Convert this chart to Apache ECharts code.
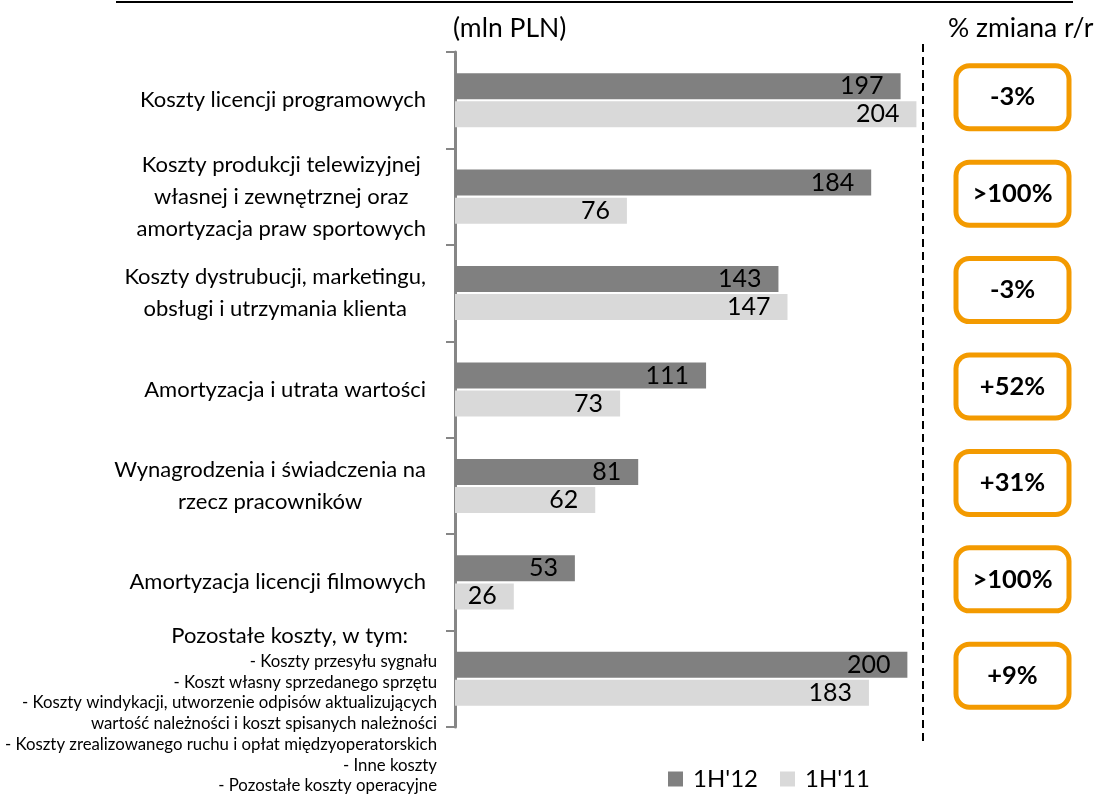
<!DOCTYPE html>
<html>
<head>
<meta charset="utf-8">
<script src="https://cdn.jsdelivr.net/npm/echarts@6/dist/echarts.min.js"></script>
<style>
  html, body { margin: 0; padding: 0; background: #fff; }
  #chart { width: 1103px; height: 795px; }
</style>
</head>
<body>
<div id="chart"></div>
<script>
// categories (top to bottom)
const categories = [
  'Koszty licencji programowych',
  'Koszty produkcji telewizyjnej\nwłasnej i zewnętrznej oraz\namortyzacja praw sportowych',
  'Koszty dystrubucji, marketingu,\nobsługi i utrzymania klienta',
  'Amortyzacja i utrata wartości',
  'Wynagrodzenia i świadczenia na\nrzecz pracowników',
  'Amortyzacja licencji filmowych',
  'Pozostałe koszty, w tym:'
]
// breakdown listed under the last category
const otherCostItems = [
  '- Koszty przesyłu sygnału',
  '- Koszt własny sprzedanego sprzętu',
  '- Koszty windykacji, utworzenie odpisów aktualizujących',
  'wartość należności i koszt spisanych należności',
  '- Koszty zrealizowanego ruchu i opłat międzyoperatorskich',
  '- Inne koszty',
  '- Pozostałe koszty operacyjne'
]
const values1H12 = [197, 184, 143, 111, 81, 53, 200]
const values1H11 = [204, 76, 147, 73, 62, 26, 183]
const changeYoY = ['-3%', '>100%', '-3%', '+52%', '+31%', '>100%', '+9%']

const FONT = 'Lato, "Open Sans", sans-serif'
const chart = echarts.init(document.getElementById('chart'))

const labelFormatter = (value, index) => {
  if (index === categories.length - 1) {
    return '{gap| }\n{main|' + value + '}\n' +
      otherCostItems.map(s => '{sub|' + s + '}').join('\n')
  }
  return value.split('\n').map(s => '{c|' + s + '}').join('\n')
}

const option = {
  animation: false,
  textStyle: { fontFamily: FONT },
  grid: [
    { left: 455, top: 52, width: 475, height: 675, outerBoundsMode: 'none', containLabel: false },
    { left: 956, top: 52, width: 113, height: 675, outerBoundsMode: 'none', containLabel: false }
  ],
  xAxis: [
    { type: 'value', min: 0, max: 210, show: false },
    { type: 'value', gridIndex: 1, min: 0, max: 2, show: false }
  ],
  yAxis: [
    {
      type: 'category',
      data: categories,
      inverse: true,
      axisLine: { lineStyle: { color: '#868686', width: 3 } },
      axisTick: { show: true, length: 9, lineStyle: { color: '#868686', width: 2 } },
      axisLabel: {
        interval: 0,
        margin: 18,
        align: 'right',
        color: '#000',
        fontFamily: FONT,
        formatter: labelFormatter,
        rich: {
          c: { fontSize: 22, lineHeight: 32, align: 'center', padding: [0, 11, 0, 0], fontFamily: FONT, color: '#000' },
          gap: { fontSize: 2, lineHeight: 60 },
          main: { fontSize: 22, lineHeight: 30, align: 'right', padding: [0, 29, 0, 0], fontFamily: FONT, color: '#000' },
          sub: { fontSize: 16.8, lineHeight: 20.7, align: 'right', fontFamily: FONT, color: '#000' }
        }
      }
    },
    { type: 'category', gridIndex: 1, data: categories, inverse: true, show: false }
  ],
  legend: {
    left: 663,
    top: 762,
    itemWidth: 15,
    itemHeight: 15,
    itemGap: 22,
    icon: 'rect',
    textStyle: { fontSize: 24, color: '#000', fontFamily: FONT, padding: [0, 0, 0, 5] },
    data: ["1H'12", "1H'11"]
  },
  graphic: [
    { type: 'line', shape: { x1: 116, y1: 2, x2: 1073, y2: 2 }, style: { stroke: '#000', lineWidth: 2 } },
    { type: 'line', shape: { x1: 923, y1: 44, x2: 923, y2: 745 }, style: { stroke: '#000', lineWidth: 2, lineDash: [8, 5] } },
    { type: 'text', left: 453, top: 15, style: { text: '(mln PLN)', fontSize: 26.5, fill: '#000', fontFamily: FONT } },
    { type: 'text', left: 948, top: 15, style: { text: '% zmiana r/r', fontSize: 26.5, fill: '#000', fontFamily: FONT } }
  ],
  series: [
    {
      name: "1H'12",
      type: 'bar',
      data: values1H12,
      barWidth: 26,
      barGap: '8%',
      itemStyle: { color: '#808080' },
      label: { show: true, position: 'insideRight', distance: 17, fontSize: 25, color: '#000', fontFamily: FONT }
    },
    {
      name: "1H'11",
      type: 'bar',
      data: values1H11,
      barWidth: 26,
      itemStyle: { color: '#d9d9d9' },
      label: { show: true, position: 'insideRight', distance: 17, fontSize: 25, color: '#000', fontFamily: FONT }
    },
    {
      name: 'zmiana',
      type: 'scatter',
      xAxisIndex: 1,
      yAxisIndex: 1,
      symbolSize: 1,
      silent: true,
      itemStyle: { color: '#fff', opacity: 1 },
      data: changeYoY.map((v, i) => ({ value: [1, i], name: v })),
      label: {
        show: true,
        position: 'inside',
        offset: [0, -3],
        formatter: p => p.name,
        width: 108,
        height: 58,
        lineHeight: 58,
        align: 'center',
        verticalAlign: 'middle',
        fontSize: 25.5,
        fontWeight: 'bold',
        color: '#000',
        textBorderWidth: 0,
        fontFamily: FONT,
        backgroundColor: '#fff',
        borderColor: '#f39a00',
        borderWidth: 5,
        borderRadius: 11
      }
    }
  ]
}

chart.setOption(option)
window.addEventListener('resize', () => chart.resize())
</script>
</body>
</html>
